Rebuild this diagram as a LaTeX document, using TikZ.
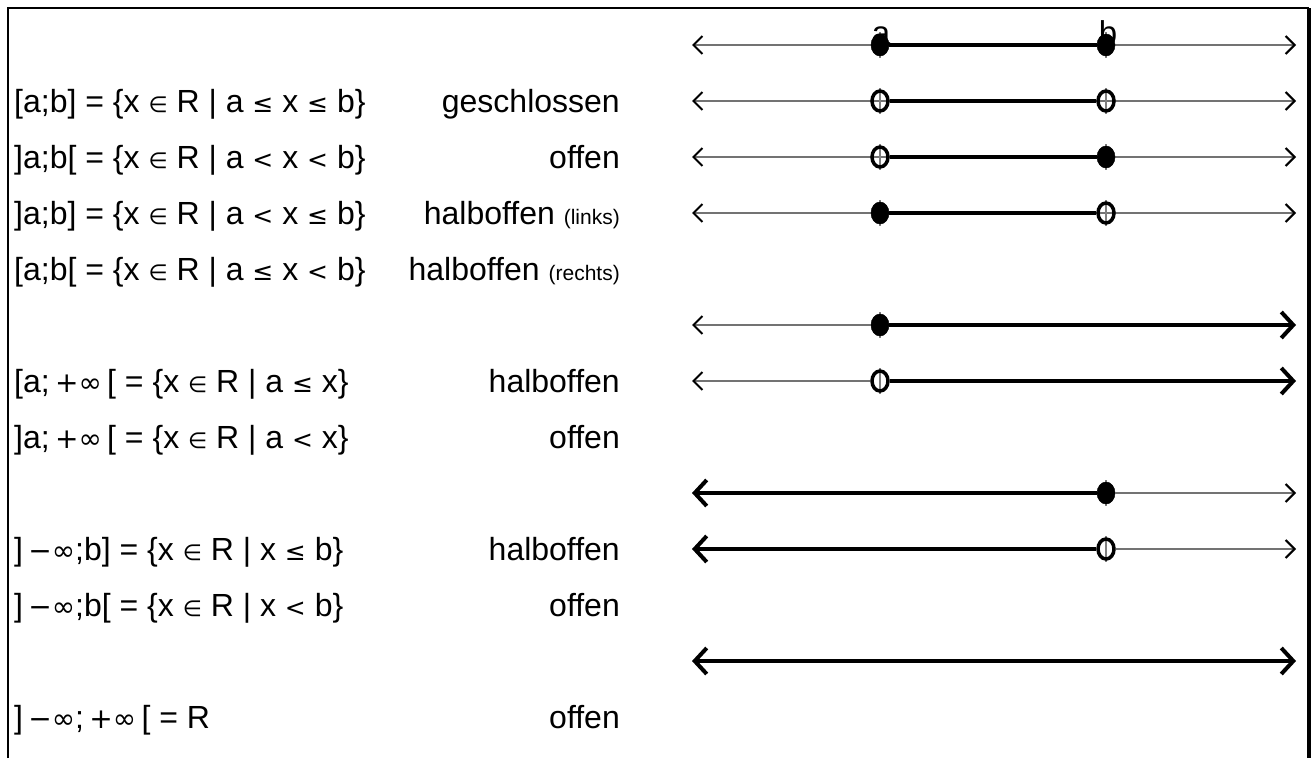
\documentclass[tikz,border=0pt]{standalone}
\usepackage{fontspec}
\setmainfont{Liberation Sans}
\newfontfamily\symf{DejaVu Sans}
\usetikzlibrary{arrows.meta,shapes.geometric}
\newcommand\sy[1]{{\symf\fontsize{25}{28}\selectfont #1}}
\newcommand\syel[1]{{\symf\fontsize{22}{26}\selectfont #1}}
\newcommand\syinf[1]{{\symf\fontsize{28}{30}\selectfont #1}}
\newcommand\smalltxt[1]{{\fontsize{21}{24}\selectfont #1}}
\begin{document}
\begin{tikzpicture}[x=1pt,y=-1pt,
  formula/.style={anchor=base west,inner sep=0pt,font=\fontsize{32}{38}\selectfont},
  kind/.style={anchor=base east,inner sep=0pt,font=\fontsize{32}{38}\selectfont},
  endlabel/.style={inner sep=0pt,font=\fontsize{33}{38}\selectfont},
  axis/.style={draw=black!55,line width=1.4pt},
  thintip/.tip={Straight Barb[length=9pt,width=18pt,line width=2pt,color=black]},
  thicktip/.tip={Straight Barb[length=12pt,width=26pt,line width=4pt]},
  thickline/.style={line width=4pt,black},
  tickmark/.style={draw=black!50,line width=1.4pt},
  fulldot/.style={ellipse,fill=black,draw=black,line width=0.5pt,minimum width=18pt,minimum height=22pt,inner sep=0pt},
  opendot/.style={ellipse,draw=black,line width=3.5pt,minimum width=16pt,minimum height=20pt,inner sep=0pt},
  frameline/.style={line width=2.5pt,black}]
\useasboundingbox (0,0) rectangle (1314,758);
% frame
\coordinate (fbl) at (8,758);
\coordinate (ftl) at (8,8);
\coordinate (ftr) at (1309,8);
\coordinate (fbr) at (1309,758);
\draw[frameline] (fbl) -- (ftl) -- (ftr);
\draw[line width=4pt] (ftr) -- (fbr);

% ---- text column ----
\node[formula] (f1) at (14,112) {[a;b] = \{x \syel{∈} R | a \sy{≤} x \sy{≤} b\}};
\node[formula] (f2) at (14,168) {]a;b[ = \{x \syel{∈} R | a \sy{<} x \sy{<} b\}};
\node[formula] (f3) at (14,224) {]a;b] = \{x \syel{∈} R | a \sy{<} x \sy{≤} b\}};
\node[formula] (f4) at (14,280) {[a;b[ = \{x \syel{∈} R | a \sy{≤} x \sy{<} b\}};
\node[formula] (f5) at (14,392) {[a;\,\syinf{+∞}\,[ = \{x \syel{∈} R | a \sy{≤} x\}};
\node[formula] (f6) at (14,448) {]a;\,\syinf{+∞}\,[ = \{x \syel{∈} R | a \sy{<} x\}};
\node[formula] (f7) at (14,560) {]\,\syinf{−∞};b] = \{x \syel{∈} R | x \sy{≤} b\}};
\node[formula] (f8) at (14,616) {]\,\syinf{−∞};b[ = \{x \syel{∈} R | x \sy{<} b\}};
\node[formula] (f9) at (14,728) {]\,\syinf{−∞};\,\syinf{+∞}\,[ = R};

\node[kind] (k1) at (620,112) {geschlossen};
\node[kind] (k2) at (620,168) {offen};
\node[kind] (k3) at (620,224) {halboffen \smalltxt{(links)}};
\node[kind] (k4) at (620,280) {halboffen \smalltxt{(rechts)}};
\node[kind] (k5) at (620,392) {halboffen};
\node[kind] (k6) at (620,448) {offen};
\node[kind] (k7) at (620,560) {halboffen};
\node[kind] (k8) at (620,616) {offen};
\node[kind] (k9) at (620,728) {offen};

% ---- bounded intervals ----
\foreach \n/\y/\as/\bs in {1/45/fulldot/fulldot, 2/101/opendot/opendot, 3/157/opendot/fulldot, 4/213/fulldot/opendot}{
  \coordinate (L\n) at (692,\y);
  \coordinate (R\n) at (1296,\y);
  \draw[axis,thintip-thintip] (L\n) -- (R\n);
  \draw[tickmark] (880,\y-13) -- (880,\y+13);
  \draw[tickmark] (1106,\y-13) -- (1106,\y+13);
  \node[\as] (A\n) at (880,\y) {};
  \node[\bs] (B\n) at (1106,\y) {};
  \draw[thickline] (A\n.east) -- (B\n.west);
}
\node[endlabel,anchor=base] (la) at (881,44) {a};
\node[endlabel,anchor=base] (lb) at (1108,44) {b};

% ---- rays to +infinity ----
\foreach \n/\y/\as in {5/325/fulldot, 6/381/opendot}{
  \coordinate (L\n) at (692,\y);
  \coordinate (R\n) at (1296,\y);
  \draw[tickmark] (880,\y-13) -- (880,\y+13);
  \node[\as] (A\n) at (880,\y) {};
  \draw[axis,-thintip] (A\n.west) -- (L\n);
  \draw[thickline,-thicktip] (A\n.east) -- (R\n);
}
% ---- rays to -infinity ----
\foreach \n/\y/\bs in {7/493/fulldot, 8/549/opendot}{
  \coordinate (L\n) at (692,\y);
  \coordinate (R\n) at (1296,\y);
  \draw[tickmark] (1106,\y-13) -- (1106,\y+13);
  \node[\bs] (B\n) at (1106,\y) {};
  \draw[axis,-thintip] (B\n.east) -- (R\n);
  \draw[thickline,-thicktip] (B\n.west) -- (L\n);
}
% ---- whole line ----
\coordinate (L9) at (692,661);
\coordinate (R9) at (1296,661);
\draw[thickline,thicktip-thicktip] (L9) -- (R9);
\end{tikzpicture}
\end{document}
